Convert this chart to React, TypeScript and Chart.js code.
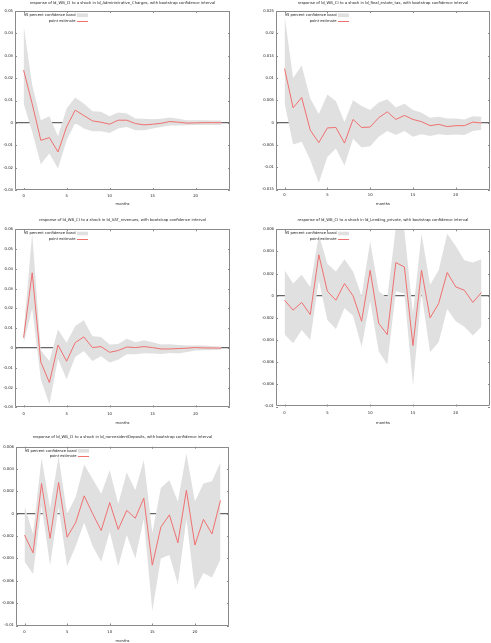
import React, { useEffect, useRef } from "react";
import { Chart, registerables } from "chart.js";

Chart.register(...registerables);

// ---------- data ----------
const months = [0, 1, 2, 3, 4, 5, 6, 7, 8, 9, 10, 11, 12, 13, 14, 15, 16, 17, 18, 19, 20, 21, 22, 23];
const xTicks = [0, 5, 10, 15, 20];

const adminPoint = [0.0236, 0.0085, -0.0078, -0.0066, -0.013, -0.0018, 0.0057, 0.0033, 0.0009, 0.0003, -0.0006, 0.0012, 0.0012, -0.0003, -0.0009, -0.0006, -0.0002, 0.0006, 0.0003, -0.0001, 0.0, 0.0001, 0.0001, 0.0001];
const adminUpper = [0.0437, 0.0169, 0.0012, 0.003, -0.006, 0.0064, 0.0113, 0.0087, 0.0052, 0.005, 0.003, 0.0046, 0.0042, 0.002, 0.0018, 0.0016, 0.0018, 0.0024, 0.0018, 0.0012, 0.0012, 0.0012, 0.0011, 0.0011];
const adminLower = [0.0087, -0.004, -0.0185, -0.0137, -0.0204, -0.0078, 0.0, -0.0025, -0.0037, -0.0037, -0.0045, -0.0025, -0.0018, -0.0033, -0.0033, -0.0025, -0.0018, -0.0012, -0.0012, -0.0011, -0.001, -0.0009, -0.0009, -0.0009];

const realPoint = [0.0121, 0.0033, 0.0056, -0.0017, -0.0045, -0.0012, -0.0011, -0.0046, 0.0007, -0.0011, -0.001, 0.0011, 0.0024, 0.0007, 0.0016, 0.0007, 0.0002, -0.0007, -0.0004, -0.0009, -0.0007, -0.0007, 0.0001, -0.0001];
const realUpper = [0.024, 0.01, 0.0128, 0.0054, 0.0019, 0.0063, 0.0048, 0.0001, 0.005, 0.0037, 0.0028, 0.0045, 0.0052, 0.0034, 0.0042, 0.0028, 0.0022, 0.0011, 0.0013, 0.0009, 0.0009, 0.0007, 0.0014, 0.0013];
const realLower = [0.0043, -0.0049, -0.0043, -0.0084, -0.0135, -0.0077, -0.0058, -0.0096, -0.0036, -0.0056, -0.0053, -0.0032, -0.0019, -0.0028, -0.0019, -0.0032, -0.0026, -0.003, -0.0026, -0.0028, -0.0027, -0.0028, -0.0019, -0.0016];

const vatPoint = [0.0052, 0.038, -0.0071, -0.0175, 0.0015, -0.0067, 0.0027, 0.0056, 0.0002, 0.0007, -0.0022, -0.0013, 0.0005, 0.0002, 0.0007, 0.0002, -0.0005, -0.0005, -0.0003, -0.0001, 0.0002, 0.0, 0.0, -0.0001];
const vatUpper = [0.008, 0.058, -0.0012, -0.0066, 0.0093, 0.0027, 0.0111, 0.014, 0.0059, 0.0056, 0.0017, 0.002, 0.0046, 0.0029, 0.0039, 0.0029, 0.0017, 0.0019, 0.0015, 0.0013, 0.0013, 0.0012, 0.0009, 0.0007];
const vatLower = [0.0022, 0.02, -0.016, -0.0285, -0.0054, -0.0158, -0.0046, -0.0015, -0.0066, -0.0042, -0.0074, -0.0059, -0.0032, -0.0032, -0.0027, -0.0028, -0.003, -0.0025, -0.0028, -0.002, -0.0013, -0.0012, -0.001, -0.0008];

const lendPoint = [-0.0004, -0.0013, -0.0006, -0.0017, 0.0037, 0.0004, -0.0004, 0.0011, 0.0, -0.0023, 0.0023, -0.0025, -0.0035, 0.003, 0.0026, -0.0045, 0.0023, -0.002, -0.0007, 0.0021, 0.0008, 0.0005, -0.0006, 0.0003];
const lendUpper = [0.0023, 0.0011, 0.0019, 0.0008, 0.0055, 0.0029, 0.0022, 0.0033, 0.0022, 0.0, 0.0049, 0.0004, -0.0002, 0.0062, 0.0059, -0.0016, 0.0056, 0.001, 0.0023, 0.0056, 0.0045, 0.0032, 0.003, 0.0033];
const lendLower = [-0.0035, -0.0043, -0.0031, -0.004, 0.0014, -0.0022, -0.003, -0.0011, -0.0018, -0.0046, -0.0005, -0.005, -0.0062, 0.0004, 0.0002, -0.0081, 0.0002, -0.0051, -0.0042, -0.0012, -0.0023, -0.0028, -0.0036, -0.0028];

const depoPoint = [-0.0019, -0.0035, 0.0027, -0.0022, 0.0028, -0.0021, -0.0008, 0.0016, 0.0, -0.0015, 0.001, -0.0014, 0.0003, -0.0004, 0.0014, -0.0046, -0.0012, -0.0001, -0.0026, 0.0021, -0.0028, -0.0005, -0.0018, 0.0012];
const depoUpper = [0.0007, -0.0018, 0.005, 0.0005, 0.0051, 0.0, 0.0015, 0.0044, 0.0031, 0.0018, 0.0039, 0.0009, 0.0037, 0.0021, 0.0048, -0.0017, 0.0023, 0.003, 0.0011, 0.0054, 0.0011, 0.0027, 0.0029, 0.0046];
const depoLower = [-0.0043, -0.0054, 0.0007, -0.0046, 0.0006, -0.0047, -0.0029, -0.0008, -0.0029, -0.0043, -0.0016, -0.0047, -0.0019, -0.004, -0.0005, -0.0087, -0.004, -0.0037, -0.0063, -0.0005, -0.0068, -0.0053, -0.0057, -0.0041];

const panelTitles = [
  "response of ld_WB_CI to a shock in ld_Administrative_Charges, with bootstrap confidence interval",
  "response of ld_WB_CI to a shock in ld_Real_estate_tax, with bootstrap confidence interval",
  "response of ld_WB_CI to a shock in ld_VAT_revenues, with bootstrap confidence interval",
  "response of ld_WB_CI to a shock in ld_Lending_private, with bootstrap confidence interval",
  "response of ld_WB_CI to a shock in ld_nonresidentDeposits, with bootstrap confidence interval",
];
const yMins = [-0.03, -0.015, -0.03, -0.01, -0.01];
const yMaxs = [0.05, 0.025, 0.06, 0.006, 0.006];
const ySteps = [0.01, 0.005, 0.01, 0.002, 0.002];
const xAxisTitle = "months";
const bandLabel = "95 percent confidence band";
const pointLabel = "point estimate";

const seriesPoint = [adminPoint, realPoint, vatPoint, lendPoint, depoPoint];
const seriesUpper = [adminUpper, realUpper, vatUpper, lendUpper, depoUpper];
const seriesLower = [adminLower, realLower, vatLower, lendLower, depoLower];

// ---------- layout (pixels) ----------
type Layout = {
  cx: number; cy: number; cw: number; ch: number;
  pl: number; pt: number; pr: number; pb: number;
  titleY: number; tickY: number; monthsY: number;
};
const layouts: Layout[] = [
  { cx: 0, cy: 0, cw: 245, ch: 210, pl: 15, pt: 11, pr: 230, pb: 190, titleY: 3, tickY: 196, monthsY: 204 },
  { cx: 245, cy: 0, cw: 246, ch: 210, pl: 276, pt: 11, pr: 490, pb: 189.5, titleY: 3, tickY: 195.5, monthsY: 204 },
  { cx: 0, cy: 210, cw: 245, ch: 216, pl: 15, pt: 229.3, pr: 230, pb: 407.3, titleY: 220.3, tickY: 414, monthsY: 423.3 },
  { cx: 245, cy: 210, cw: 246, ch: 216, pl: 276, pt: 229.3, pr: 490, pb: 406.5, titleY: 220.3, tickY: 413.5, monthsY: 422.7 },
  { cx: 0, cy: 426, cw: 245, ch: 217, pl: 16, pt: 446.7, pr: 229, pb: 625.5, titleY: 436.7, tickY: 632, monthsY: 640.7 },
];

const FONT = "'DejaVu Sans', sans-serif";
const TITLE_SIZE = 3.8;
const TICK_SIZE = 3.8;
const LABEL_SIZE = 3.7;
const TEXT_COLOR = "#222";
const BAND_COLOR = "#e0e0e0";
const LINE_COLOR = "#f07070";
const FRAME_COLOR = "#8a8a8a";
const ZERO_COLOR = "#666666";

const gretlFrame = {
  id: "gretlFrame",
  afterDraw(chart: any) {
    const { ctx, chartArea } = chart;
    const { left, top, right, bottom } = chartArea;
    const xs = chart.scales.x;
    const ys = chart.scales.y;
    ctx.save();
    ctx.strokeStyle = FRAME_COLOR;
    ctx.lineWidth = 1;
    ctx.beginPath();
    ctx.rect(Math.round(left) + 0.5, Math.round(top) + 0.5, Math.round(right - left) - 1, Math.round(bottom - top) - 1);
    ctx.stroke();
    const tl = 2;
    ctx.beginPath();
    xs.ticks.forEach((t: any) => {
      const px = Math.round(xs.getPixelForValue(t.value)) + 0.5;
      ctx.moveTo(px, bottom);
      ctx.lineTo(px, bottom - tl);
      ctx.moveTo(px, top);
      ctx.lineTo(px, top + tl);
    });
    ys.ticks.forEach((t: any) => {
      const py = Math.round(ys.getPixelForValue(t.value)) + 0.5;
      ctx.moveTo(left, py);
      ctx.lineTo(left + tl, py);
      ctx.moveTo(right, py);
      ctx.lineTo(right - tl, py);
    });
    ctx.stroke();

    // legend (gretl style: text then sample)
    const textRight = left + 60.5;
    const r1 = top + 4.2;
    const r2 = top + 9.8;
    ctx.font = `${LABEL_SIZE}px ${FONT}`;
    ctx.fillStyle = TEXT_COLOR;
    ctx.textAlign = "right";
    ctx.textBaseline = "middle";
    ctx.fillText(bandLabel, textRight, r1);
    ctx.fillText(pointLabel, textRight, r2);
    ctx.fillStyle = BAND_COLOR;
    ctx.fillRect(left + 62, r1 - 1.8, 11, 3.6);
    ctx.strokeStyle = LINE_COLOR;
    ctx.lineWidth = 1;
    ctx.beginPath();
    ctx.moveTo(left + 62, Math.round(r2) + 0.5);
    ctx.lineTo(left + 73, Math.round(r2) + 0.5);
    ctx.stroke();
    ctx.restore();
  },
};

function Panel({ idx }: { idx: number }) {
  const ref = useRef<HTMLCanvasElement | null>(null);
  const L = layouts[idx];
  useEffect(() => {
    if (!ref.current) return;
    const lhT = TITLE_SIZE * 1.2;
    const lhTick = TICK_SIZE * 1.2;
    const lhLab = LABEL_SIZE * 1.2;
    const tPadTop = L.titleY - L.cy - lhT / 2;
    const tPadBottom = L.pt - L.cy - tPadTop - lhT;
    const yWidth = L.pl - L.cx;
    const xHeight = L.cy + L.ch - L.pb;
    const toXY = (arr: number[]) => months.map((m, i) => ({ x: m, y: arr[i] }));
    const chart = new Chart(ref.current, {
      type: "line",
      data: {
        datasets: [
          {
            label: bandLabel,
            data: toXY(seriesUpper[idx]),
            borderWidth: 0,
            borderColor: "rgba(0,0,0,0)",
            backgroundColor: BAND_COLOR,
            pointRadius: 0,
            fill: "+1",
            tension: 0,
            order: 2,
          },
          {
            label: "lower",
            data: toXY(seriesLower[idx]),
            borderWidth: 0,
            borderColor: "rgba(0,0,0,0)",
            pointRadius: 0,
            fill: false,
            tension: 0,
            order: 3,
          },
          {
            label: pointLabel,
            data: toXY(seriesPoint[idx]),
            borderWidth: 1,
            borderColor: LINE_COLOR,
            pointRadius: 0,
            fill: false,
            tension: 0,
            order: 0,
          },
        ],
      },
      options: {
        animation: false,
        responsive: false,
        events: [],
        layout: { padding: { left: 0, top: 0, bottom: 0, right: L.cx + L.cw - L.pr } },
        plugins: {
          legend: { display: false },
          tooltip: { enabled: false },
          title: {
            display: true,
            text: panelTitles[idx],
            fullSize: false,
            color: TEXT_COLOR,
            font: { family: FONT, size: TITLE_SIZE, weight: "normal", lineHeight: 1.2 },
            padding: { top: tPadTop, bottom: tPadBottom },
          },
        },
        scales: {
          x: {
            type: "linear",
            min: -1,
            max: 24,
            afterBuildTicks: (s: any) => {
              s.ticks = xTicks.map((v) => ({ value: v }));
            },
            afterFit: (s: any) => {
              s.height = xHeight;
            },
            grid: { display: false, drawTicks: false },
            border: { display: false },
            ticks: {
              color: TEXT_COLOR,
              font: { family: FONT, size: TICK_SIZE, lineHeight: 1.2 },
              padding: L.tickY - L.pb - lhTick / 2,
              maxRotation: 0,
              autoSkip: false,
            },
            title: {
              display: true,
              text: xAxisTitle,
              color: TEXT_COLOR,
              font: { family: FONT, size: LABEL_SIZE, lineHeight: 1.2 },
              padding: { top: 0, bottom: Math.max(0, L.cy + L.ch - L.monthsY - lhLab / 2) },
            },
          },
          y: {
            type: "linear",
            min: yMins[idx],
            max: yMaxs[idx],
            z: 1,
            afterFit: (s: any) => {
              s.width = yWidth;
            },
            grid: {
              drawTicks: false,
              color: (c: any) => (c.tick && Math.abs(c.tick.value) < 1e-12 ? ZERO_COLOR : "rgba(0,0,0,0)"),
              lineWidth: (c: any) => (c.tick && Math.abs(c.tick.value) < 1e-12 ? 1.3 : 0),
            },
            border: { display: false },
            ticks: {
              stepSize: ySteps[idx],
              color: TEXT_COLOR,
              font: { family: FONT, size: TICK_SIZE, lineHeight: 1.2 },
              padding: 2,
              autoSkip: false,
              callback: (v: any) => String(Number(Number(v).toFixed(6))),
            },
          },
        },
      },
      plugins: [gretlFrame],
    });
    return () => chart.destroy();
  }, [idx]);
  return (
    <canvas
      ref={ref}
      width={L.cw}
      height={L.ch}
      style={{ position: "absolute", left: L.cx, top: L.cy, width: L.cw, height: L.ch }}
    />
  );
}

export default function App() {
  return (
    <div
      style={{
        position: "fixed",
        left: 0,
        top: 0,
        width: 491,
        height: 643,
        overflow: "hidden",
        background: "#ffffff",
      }}
    >
      {[0, 1, 2, 3, 4].map((i) => (
        <Panel key={i} idx={i} />
      ))}
    </div>
  );
}
